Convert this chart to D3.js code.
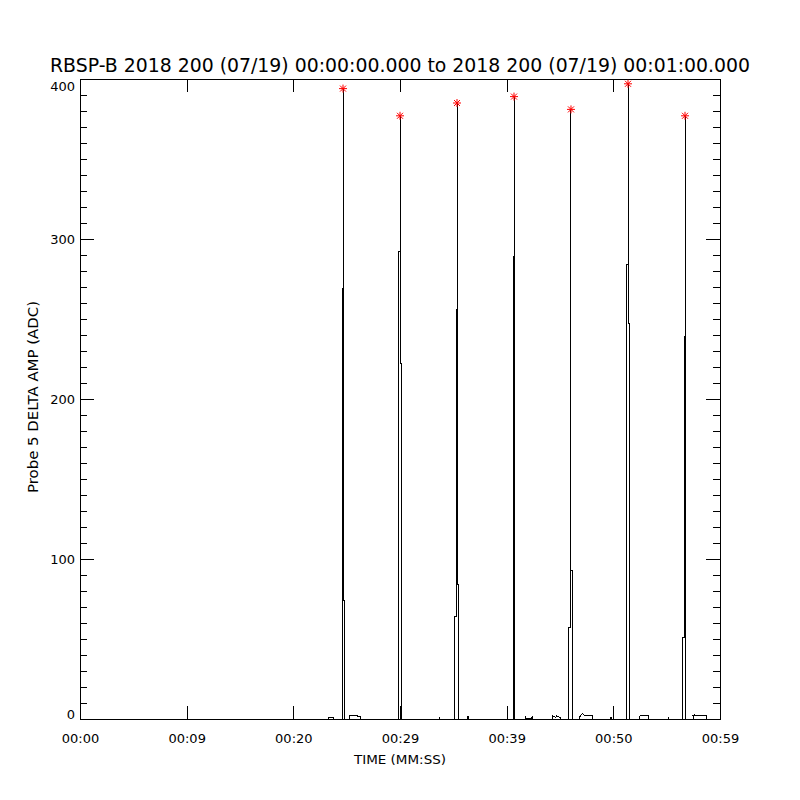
<!DOCTYPE html>
<html>
<head>
<meta charset="utf-8">
<script src="https://cdn.jsdelivr.net/npm/d3@7"></script>
<style>
  html, body { margin: 0; padding: 0; background: #fff; }
  svg { display: block; }
  text { font-family: "DejaVu Sans", sans-serif; fill: #000; }
</style>
</head>
<body>
<svg id="chart" width="800" height="800"></svg>
<script>
// ---- data ----
const titleText = "RBSP-B 2018 200 (07/19) 00:00:00.000 to 2018 200 (07/19) 00:01:00.000";
const xLabel = "TIME (MM:SS)";
const yLabel = "Probe 5 DELTA AMP (ADC)";

const xTickSeconds = [0, 10, 20, 30, 40, 50, 60];
const xTickLabels = ["00:00", "00:09", "00:20", "00:29", "00:39", "00:50", "00:59"];
const yMajorTicks = [0, 100, 200, 300, 400];
const yMinorStep = 10;

// trace: [seconds, ADC amplitude]
const trace = [
  [0, 0], [23.34, 0], [23.34, 1], [23.72, 1], [23.81, 0],
  [24.5625, 0], [24.5625, 269], [24.65625, 269], [24.65625, 394], [24.65625, 74], [24.75, 74], [24.75, 0],
  [25.31, 0], [25.31, 2], [26.0, 2], [26.1, 1.5], [26.34, 1.5], [26.34, 0],
  [29.906, 0], [29.906, 292], [30.0, 292], [30.0, 377], [30.0, 222], [30.094, 222], [30.094, 0],
  [33.66, 0], [33.66, 1.5], [33.7, 0],
  [35.156, 0], [35.156, 64], [35.25, 64], [35.25, 256], [35.344, 256], [35.344, 385], [35.344, 84], [35.4375, 84], [35.4375, 0],
  [36.28, 0], [36.375, 2], [36.47, 0],
  [40.594, 0], [40.594, 289], [40.6875, 289], [40.6875, 389], [40.6875, 236], [40.78, 236], [40.78, 0],
  [41.72, 0], [41.72, 2], [41.8, 0.5], [42.3, 0.5], [42.4, 1.5], [42.47, 0],
  [44.34, 0], [44.34, 2], [44.6, 1], [44.7, 2], [45.0, 1], [45.0, 0],
  [45.84, 0], [45.84, 57], [45.9375, 57], [45.9375, 247], [46.03, 247], [46.03, 381], [46.03, 93], [46.125, 93], [46.125, 0],
  [46.78, 0], [46.9, 2], [47.1, 3.5], [47.3, 2], [48.09, 2], [48.09, 0],
  [49.78, 0], [49.78, 1.5], [49.85, 0],
  [51.28, 0], [51.28, 284], [51.375, 284], [51.375, 397], [51.375, 247], [51.47, 247], [51.47, 0],
  [52.41, 0], [52.41, 1.5], [52.5, 2], [53.25, 2], [53.25, 0],
  [55.125, 0], [55.125, 1.5], [55.2, 0],
  [56.53, 0], [56.53, 51], [56.625, 51], [56.625, 239], [56.72, 239], [56.72, 377], [56.72, 102], [56.81, 102], [56.81, 0],
  [57.47, 0], [57.47, 2], [57.6, 2.5], [58.69, 2], [58.69, 0],
  [60, 0]
];

const peakSeconds = [24.65625, 30.0, 35.344, 40.6875, 46.03, 51.375, 56.72];
const peakValues  = [394, 377, 385, 389, 381, 397, 377];

// ---- layout ----
const svg = d3.select("#chart");
const L = 80, R = 720, T = 79, B = 719;

const x = d3.scaleLinear().domain([0, 60]).range([L, R]);
const y = d3.scaleLinear().domain([0, 400]).range([B, T]);

svg.append("rect").attr("width", 800).attr("height", 800).attr("fill", "#fff");

// title
svg.append("text")
  .attr("x", 400).attr("y", 72)
  .attr("text-anchor", "middle")
  .attr("font-size", 19)
  .attr("textLength", 700)
  .attr("lengthAdjust", "spacingAndGlyphs")
  .text(titleText);

// trace
const line = d3.line().x(d => x(d[0])).y(d => y(d[1]));
svg.append("path")
  .datum(trace)
  .attr("d", line)
  .attr("fill", "none")
  .attr("stroke", "#000")
  .attr("stroke-width", 1)
  .attr("shape-rendering", "crispEdges");

// axes
const yMinor = d3.range(0, 401, yMinorStep).filter(v => !yMajorTicks.includes(v));

function styleAxis(g) {
  g.select(".domain").remove();
  g.selectAll(".tick line").attr("stroke", "#000").attr("shape-rendering", "crispEdges");
  g.selectAll("text").attr("font-family", "DejaVu Sans, sans-serif").attr("font-size", 13).attr("fill", "#000");
}

svg.append("g").attr("transform", `translate(0,${B})`)
  .call(d3.axisBottom(x).tickValues(xTickSeconds).tickFormat((d, i) => xTickLabels[i])
        .tickSizeInner(-13).tickSizeOuter(0).tickPadding(14.8))
  .call(styleAxis);
svg.append("g").attr("transform", `translate(0,${T})`)
  .call(d3.axisTop(x).tickValues(xTickSeconds).tickFormat("").tickSizeInner(-13).tickSizeOuter(0))
  .call(styleAxis);
const leftAxis = svg.append("g").attr("transform", `translate(${L},0)`)
  .call(d3.axisLeft(y).tickValues(yMajorTicks).tickFormat(d3.format("d"))
        .tickSizeInner(-14).tickSizeOuter(0).tickPadding(5))
  .call(styleAxis);
leftAxis.selectAll(".tick text")
  .attr("dy", d => d === 400 ? "0.86em" : (d === 0 ? "-0.02em" : "0.32em"));
svg.append("g").attr("transform", `translate(${L},0)`)
  .call(d3.axisLeft(y).tickValues(yMinor).tickFormat("").tickSizeInner(-7).tickSizeOuter(0))
  .call(styleAxis);
svg.append("g").attr("transform", `translate(${R},0)`)
  .call(d3.axisRight(y).tickValues(yMajorTicks).tickFormat("").tickSizeInner(-14).tickSizeOuter(0))
  .call(styleAxis);
svg.append("g").attr("transform", `translate(${R},0)`)
  .call(d3.axisRight(y).tickValues(yMinor).tickFormat("").tickSizeInner(-7).tickSizeOuter(0))
  .call(styleAxis);

// frame
svg.append("rect")
  .attr("x", L).attr("y", T).attr("width", R - L).attr("height", B - T)
  .attr("fill", "none").attr("stroke", "#000").attr("stroke-width", 1)
  .attr("shape-rendering", "crispEdges");

// peak asterisks
const s = 4, sd = 3;
const starPath = `M${-s},0L${s},0M0,${-s}L0,${s}M${-sd},${-sd}L${sd},${sd}M${-sd},${sd}L${sd},${-sd}`;
svg.append("g").selectAll("path.star")
  .data(peakSeconds.map((t, i) => [t, peakValues[i]]))
  .join("path")
  .attr("class", "star")
  .attr("transform", d => `translate(${x(d[0])},${y(d[1])})`)
  .attr("d", starPath)
  .attr("fill", "none")
  .attr("stroke", "#ff0000")
  .attr("stroke-width", 1);

// axis titles
svg.append("text")
  .attr("x", 400).attr("y", 764)
  .attr("text-anchor", "middle")
  .attr("font-size", 13)
  .attr("textLength", 92)
  .attr("lengthAdjust", "spacingAndGlyphs")
  .text(xLabel);

svg.append("text")
  .attr("transform", "translate(38,397) rotate(-90)")
  .attr("text-anchor", "middle")
  .attr("font-size", 14)
  .attr("textLength", 192)
  .attr("lengthAdjust", "spacingAndGlyphs")
  .text(yLabel);
</script>
</body>
</html>
